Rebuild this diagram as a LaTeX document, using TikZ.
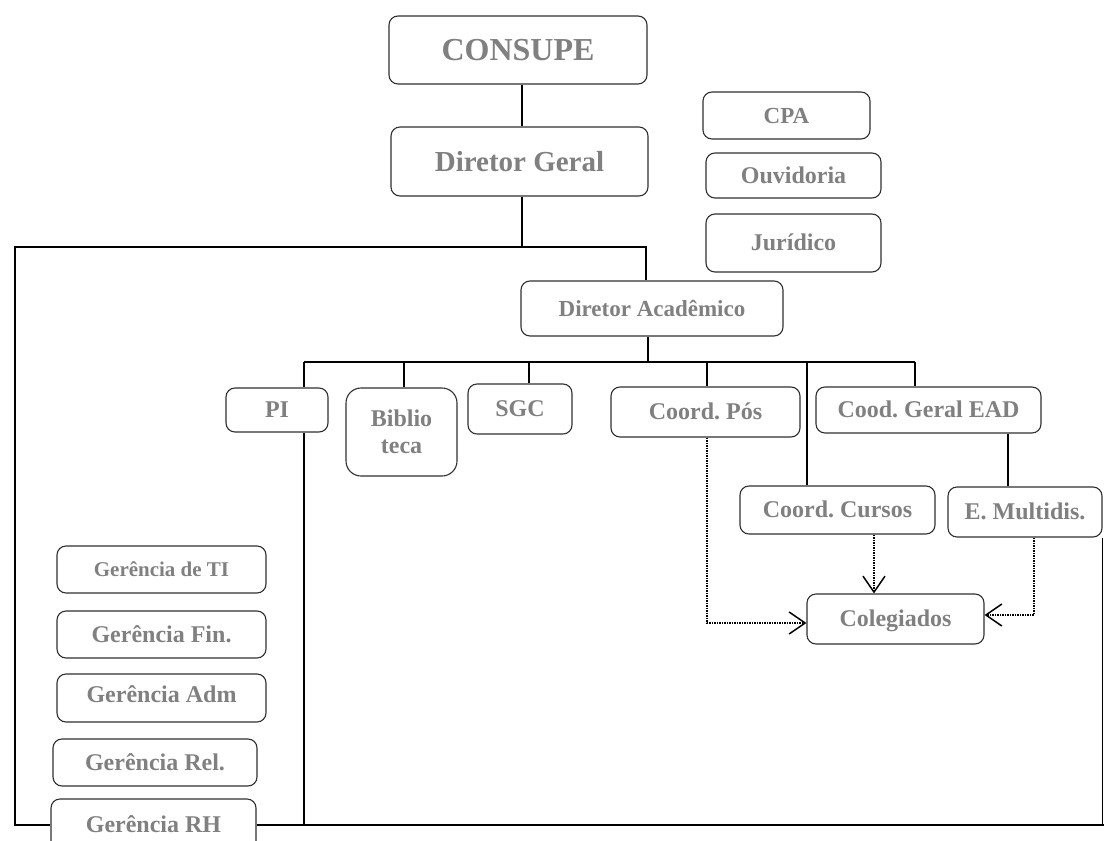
\documentclass[tikz,border=0pt]{standalone}
\usepackage{fontspec}
\setmainfont{Liberation Serif}
\usetikzlibrary{arrows.meta}
\definecolor{txtgray}{HTML}{808080}
\definecolor{boxline}{HTML}{303030}
\frenchspacing
\tikzset{
  basebox/.style={draw=boxline, line width=1.1pt, rounded corners=9pt, text=txtgray, inner sep=0pt, align=center},
  capbox/.style={basebox, text depth=0pt},
  fs/.style={font=\fontsize{#1}{#1}\selectfont\bfseries\frenchspacing, text height=#1pt*0.66},
  conn/.style={line width=1.6pt, black},
  dotarrow/.style={line width=2pt, dash pattern=on 1.6pt off 0.9pt, -{Straight Barb[length=16pt,width=22pt,line width=1.5pt]}}
}
\begin{document}
\begin{tikzpicture}[x=1pt,y=-1pt]
\useasboundingbox (0,0) rectangle (1104,841);
% boxes
\node[capbox, fs=32, text depth=-3pt, minimum width=258, minimum height=68] (consupe) at (518,50) {CONSUPE};
\node[capbox, fs=29, minimum width=257, minimum height=69] (dg) at (519.5,161.5) {Diretor Geral};
\node[capbox, fs=23, text depth=-5pt, minimum width=167, minimum height=47] (cpa) at (786.5,115.5) {CPA};
\node[capbox, fs=24, text depth=-5pt, minimum width=175, minimum height=45] (ouv) at (793.5,175.5) {Ouvidoria};
\node[capbox, fs=24, minimum width=175, minimum height=58] (jur) at (793.5,243) {Jurídico};
\node[capbox, fs=23, text depth=-2pt, minimum width=262, minimum height=55] (da) at (652,308.5) {Diretor Acadêmico};
\node[capbox, fs=24, minimum width=102, minimum height=44] (pi) at (277,410) {PI};
\node[basebox, rounded corners=15pt, font=\fontsize{24}{27}\selectfont\bfseries, minimum width=111, minimum height=88] (bib) at (401.5,432) {Biblio\\teca};
\node[capbox, fs=24, minimum width=104, minimum height=50] (sgc) at (520,409) {SGC};
\node[capbox, fs=24, minimum width=189, minimum height=50] (cpos) at (705.5,412) {Coord. Pós};
\node[capbox, fs=24, text depth=-4pt, minimum width=225, minimum height=46] (ead) at (928.5,410) {Cood. Geral EAD};
\node[capbox, fs=24, minimum width=195, minimum height=48] (ccur) at (837.5,510) {Coord. Cursos};
\node[capbox, fs=24, minimum width=154, minimum height=50] (em) at (1025,512) {E. Multidis.};
\node[capbox, fs=24, minimum width=177, minimum height=50] (col) at (895.5,619) {Colegiados};
\node[capbox, fs=21, text depth=-4pt, minimum width=209, minimum height=47] (gti) at (161.5,569.5) {Gerência de TI};
\node[capbox, fs=24, text depth=-6pt, minimum width=209, minimum height=47] (gfin) at (161.5,634.5) {Gerência Fin.};
\node[capbox, fs=24, text depth=6pt, minimum width=209, minimum height=48] (gadm) at (161.5,698) {Gerência Adm};
\node[capbox, fs=24, minimum width=204, minimum height=47] (grel) at (155,762.5) {Gerência Rel.};
\node[capbox, fs=24, minimum width=205, minimum height=52] (grh) at (153.5,825) {Gerência RH};
% coordinates
\coordinate (hy) at (522,247);
\coordinate (dax) at (646,247);
\coordinate (hl) at (15,247);
\coordinate (tl) at (304,362);
\coordinate (tb) at (404,362);
\coordinate (ts) at (529,362);
\coordinate (tm) at (648,362);
\coordinate (tp) at (707,362);
\coordinate (tc) at (807,362);
\coordinate (tr) at (915,362);
\coordinate (ex) at (1008,460);
\coordinate (cx) at (874,560);
\coordinate (mx) at (1034,560);
\coordinate (br) at (1104,825);
% connectors
\draw[conn] (consupe.south -| hy) -- (dg.north -| hy);
\draw[conn] (dg.south -| hy) -- (hy) -- (dax) -- (dax |- da.north);
\draw[conn] (hy) -- (hl) |- (grh.west);
\draw[conn] (tm |- da.south) -- (tm);
\draw[conn] (tl) -- (tr);
\draw[conn] (tl) -- (tl |- pi.north);
\draw[conn] (tb) -- (tb |- bib.north);
\draw[conn] (ts) -- (ts |- sgc.north);
\draw[conn] (tp) -- (tp |- cpos.north);
\draw[conn] (tr) -- (tr |- ead.north);
\draw[conn] (tc) -- (tc |- ccur.north);
\draw[conn] (ex |- ead.south) -- (ex |- em.north);
\draw[conn] (tl |- pi.south) -- (tl |- grh.east);
\draw[conn] (grh.east) -- (br);
\draw[conn] (em.south east) -- (em.south east |- br);
% dotted arrows
\draw[dotarrow] (tp |- cpos.south) |- ([yshift=-4pt]col.west);
\draw[dotarrow] (cx |- ccur.south) -- (cx |- col.north);
\draw[dotarrow] (mx |- em.south) |- ([yshift=4pt]col.east);
\end{tikzpicture}
\end{document}
